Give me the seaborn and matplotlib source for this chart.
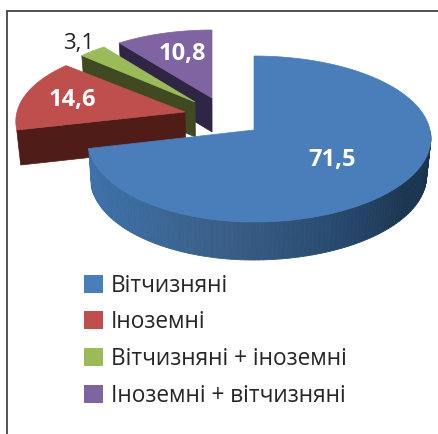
import numpy as np
import seaborn as sns
import matplotlib
matplotlib.use("Agg")
import matplotlib.pyplot as plt
from matplotlib.patches import Patch, Polygon

sns.set_theme(style="white")
plt.rcParams['font.family'] = ['Open Sans', 'DejaVu Sans']

categories = ["Вітчизняні", "Іноземні", "Вітчизняні + іноземні", "Іноземні + вітчизняні"]
values = [71.5, 14.6, 3.1, 10.8]
value_labels = ["71,5", "14,6", "3,1", "10,8"]

top_colors = sns.color_palette(["#4a7ebb", "#be4f4c", "#9bbb59", "#8064a2"])
side_colors = sns.color_palette(["#3a6ea5", "#4f1c18", "#3f4a22", "#2f2545"])
wall_ramp = sns.blend_palette(["#3c72ab", "#3c6c9f", "#3a5f88", "#2a4c72", "#1b3550", "#1b3550"], 120)

# geometry of the projected pie, in image pixels
apexes = [(254, 130), (185, 112), (195, 102), (212, 98)]
depths = [38, 35, 35, 34]
back_scale = [83, 80, 80, 80]
left_width = [165, 168, 160, 163]
right_width = 176
label_pos = [(332, 160), (72, 100), (79, 43), (182, 54)]
label_bold = [True, True, False, True]


def rim(i, theta):
    u, v = np.sin(theta), -np.cos(theta)
    a = np.where(u < 0, left_width[i], right_width)
    k = np.where(u < 0, 0.12, 0.10)
    x = apexes[i][0] + a * u * (1 + k * v)
    y = apexes[i][1] + v * (back_scale[i] + (92 - back_scale[i]) * v)
    return x, y


def drop(x, y, d):
    return x + (215 - np.asarray(x)) * 0.02, np.asarray(y) + d


fig = plt.figure(figsize=(4.38, 4.34), dpi=100)
ax = fig.add_axes([0, 0, 1, 1])
ax.set_xlim(0, 438)
ax.set_ylim(434, 0)
ax.axis("off")

edges = np.concatenate([[0], np.cumsum(values)]) / np.sum(values) * 2 * np.pi

for i in [3, 2, 1, 0]:
    t = np.linspace(edges[i], edges[i + 1], 200)
    x, y = rim(i, t)
    ax0, ay0 = apexes[i]
    d = depths[i]
    if i == 0:
        # outer wall with a shaded ramp, left to right
        vis = np.linspace(np.pi / 2 + 0.02, edges[1], 121)
        xs, ys = rim(0, vis)
        xb, yb = drop(xs, ys, d)
        for j in range(120):
            c = wall_ramp[119 - j]
            ax.fill([xs[j], xs[j + 1], xb[j + 1], xb[j]],
                    [ys[j], ys[j + 1], yb[j + 1], yb[j]], color=c, lw=0.6, zorder=1)
    else:
        # radial cut face seen from the front
        ex, ey = x[0], y[0]
        bx, by = drop(np.array([ex, ax0]), np.array([ey, ay0]), d)
        ax.add_patch(Polygon([(ex, ey), (ax0, ay0), (bx[1], by[1]), (bx[0], by[0])],
                             closed=True, fc=side_colors[i], ec=side_colors[i], lw=0.5, zorder=1))
    ax.add_patch(Polygon(np.column_stack([np.r_[ax0, x], np.r_[ay0, y]]), closed=True,
                         fc=top_colors[i], ec=top_colors[i], lw=0.5, zorder=1))

for lab, (lx, ly), bold in zip(value_labels, label_pos, label_bold):
    ax.text(lx, ly, lab, ha="center", va="center", fontsize=17 if bold else 16,
            fontweight="bold" if bold else "normal",
            color="white" if bold else "#222222", zorder=3)

# frame of the picture
ax.plot([6.5, 6.5, 438], [434, 10.5, 10.5], color="#444444", lw=1.3, zorder=4, solid_joinstyle="miter")

handles = [Patch(fc=c, ec="none", label=n) for c, n in zip(top_colors, categories)]
ax.legend(handles=handles, loc="upper left", bbox_to_anchor=(84 / 438, 1 - 273.5 / 434),
          frameon=False, fontsize=16.3, handlelength=0.84, handleheight=0.84,
          handletextpad=0.36, labelspacing=0.56, borderpad=0, borderaxespad=0,
          labelcolor="#262626")

fig.savefig("out.png", dpi=100)
